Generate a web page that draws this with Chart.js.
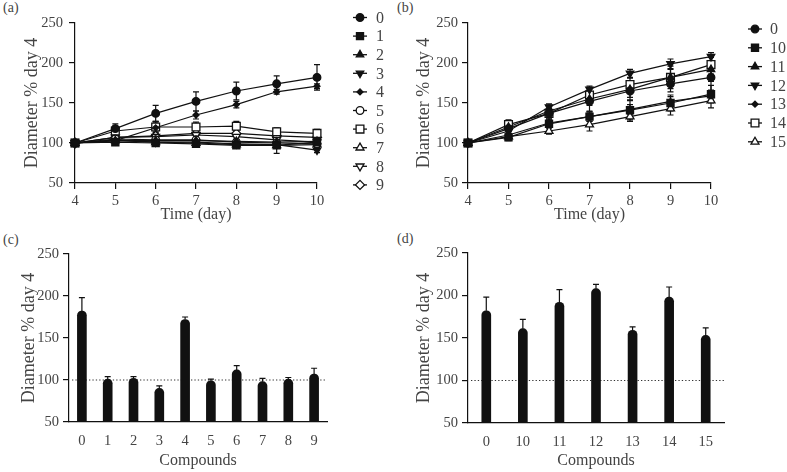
<!DOCTYPE html>
<html>
<head>
<meta charset="utf-8">
<script src="https://cdn.jsdelivr.net/npm/chart.js@4.4.1/dist/chart.umd.min.js"></script>
<style>
  body { margin: 0; background: #fff; width: 787px; height: 472px; position: relative; overflow: hidden;
         font-family: "Liberation Serif", "Times New Roman", serif; }
  .panel { position: absolute; }
  .tag { position: absolute; font-size: 14px; line-height: 16px; color: #444; }
</style>
</head>
<body>
<div class="tag" style="left:3px;top:0px">(a)</div>
<div class="tag" style="left:397px;top:0px">(b)</div>
<div class="tag" style="left:3px;top:232px">(c)</div>
<div class="tag" style="left:397px;top:231px">(d)</div>

<div class="panel" style="left:0;top:0"><canvas id="chartA" width="395" height="232"></canvas></div>
<div class="panel" style="left:395px;top:0"><canvas id="chartB" width="392" height="232"></canvas></div>
<div class="panel" style="left:0;top:232px"><canvas id="chartC" width="395" height="240"></canvas></div>
<div class="panel" style="left:395px;top:232px"><canvas id="chartD" width="392" height="240"></canvas></div>

<script>
// days of measurement
const days = [4, 5, 6, 7, 8, 9, 10];

// panel (a): compounds 0-9, diameter % of day 4
const namesA = ["0", "1", "2", "3", "4", "5", "6", "7", "8", "9"];
const meansA = [
  [100, 118, 137, 152, 165, 174, 182],
  [100, 101, 100, 99, 97, 97, 101],
  [100, 103, 103, 103, 102, 101, 102],
  [100, 103, 101, 101, 99, 98, 91],
  [100, 103, 119, 135, 148, 164, 171],
  [100, 105, 104, 104, 101, 100, 99],
  [100, 115, 120, 120, 121, 114, 112],
  [100, 104, 101, 100, 98, 97, 98],
  [100, 107, 108, 110, 108, 104, 101],
  [100, 107, 109, 112, 112, 109, 107]
];
const errsA = [
  [3, 6, 10, 12, 11, 10, 16],
  [2, 2, 2, 2, 2, 2, 4],
  [2, 2, 2, 2, 2, 2, 2],
  [2, 2, 3, 3, 4, 3, 3],
  [2, 3, 8, 5, 4, 3, 3],
  [2, 3, 3, 3, 3, 3, 2],
  [2, 5, 6, 6, 6, 5, 5],
  [2, 3, 3, 3, 3, 10, 4],
  [2, 3, 3, 3, 3, 3, 2],
  [2, 3, 4, 4, 4, 5, 7]
];

// panel (b): compounds 0, 10-15
const namesB = ["0", "10", "11", "12", "13", "14", "15"];
const meansB = [
  [100, 118, 137, 152, 165, 174, 182],
  [100, 107, 124, 133, 141, 150, 161],
  [100, 120, 140, 155, 167, 182, 192],
  [100, 115, 145, 167, 187, 199, 208],
  [100, 110, 125, 133, 142, 152, 159],
  [100, 123, 137, 160, 173, 182, 198],
  [100, 108, 115, 123, 133, 143, 153]
];
const errsB = [
  [3, 6, 10, 12, 11, 10, 16],
  [2, 4, 5, 6, 12, 10, 11],
  [2, 5, 6, 8, 10, 14, 15],
  [2, 4, 4, 4, 5, 6, 5],
  [2, 4, 5, 6, 6, 6, 4],
  [2, 6, 6, 8, 8, 10, 12],
  [2, 4, 4, 8, 6, 8, 9]
];

// panels (c) and (d): day 10 values
const compoundsC = ["0", "1", "2", "3", "4", "5", "6", "7", "8", "9"];
const day10C = [182, 101, 102, 90, 172, 99, 112, 98, 101, 107];
const errC = [16, 3, 2, 3, 3, 2, 5, 4, 2, 7];

const compoundsD = ["0", "10", "11", "12", "13", "14", "15"];
const day10D = [182, 161, 192, 208, 159, 198, 153];
const errD = [16, 11, 15, 5, 4, 12, 9];

const yTicks = [50, 100, 150, 200, 250];
const baseline = 100;

// marker styles
const shapesA = [
  {style: "circle", rot: 0, r: 3.8, open: false},
  {style: "rect", rot: 0, r: 5, open: false},
  {style: "triangle", rot: 0, r: 4.3, open: false},
  {style: "triangle", rot: 180, r: 4.3, open: false},
  {style: "rectRot", rot: 0, r: 3, open: false},
  {style: "circle", rot: 0, r: 3.8, open: true},
  {style: "rect", rot: 0, r: 5.5, open: true},
  {style: "triangle", rot: 0, r: 4.6, open: true},
  {style: "triangle", rot: 180, r: 4.6, open: true},
  {style: "rectRot", rot: 0, r: 4.5, open: true}
];
const shapesB = [
  {style: "circle", rot: 0, r: 3.8, open: false},
  {style: "rect", rot: 0, r: 5, open: false},
  {style: "triangle", rot: 0, r: 4.3, open: false},
  {style: "triangle", rot: 180, r: 4.3, open: false},
  {style: "rectRot", rot: 0, r: 3, open: false},
  {style: "rect", rot: 0, r: 5.5, open: true},
  {style: "triangle", rot: 0, r: 4.6, open: true}
];

const ink = "#111";
const textGray = "#444";

Chart.defaults.font.family = '"Liberation Serif", "Times New Roman", serif';
Chart.defaults.color = textGray;
Chart.defaults.animation = false;

// error bars drawn from each dataset's err array
const errorBars = {
  id: "errorBars",
  beforeDatasetsDraw(chart, args, opts) {
    const ctx = chart.ctx;
    const y = chart.scales.y;
    ctx.save();
    ctx.strokeStyle = ink;
    ctx.lineWidth = 1.2;
    chart.data.datasets.forEach((ds, i) => {
      if (!ds.err) return;
      chart.getDatasetMeta(i).data.forEach((el, j) => {
        const v = typeof ds.data[j] === "object" ? ds.data[j].y : ds.data[j];
        const top = y.getPixelForValue(v + ds.err[j]);
        const bot = opts.upOnly ? y.getPixelForValue(v) : y.getPixelForValue(v - ds.err[j]);
        ctx.beginPath();
        ctx.moveTo(el.x, top); ctx.lineTo(el.x, bot);
        ctx.moveTo(el.x - 3, top); ctx.lineTo(el.x + 3, top);
        if (!opts.upOnly) { ctx.moveTo(el.x - 3, bot); ctx.lineTo(el.x + 3, bot); }
        ctx.stroke();
      });
    });
    ctx.restore();
  }
};

// dotted reference line at 100 %
const refLine = {
  id: "refLine",
  beforeDatasetsDraw(chart, args, opts) {
    if (!opts.show) return;
    const ctx = chart.ctx;
    const py = chart.scales.y.getPixelForValue(baseline);
    ctx.save();
    ctx.strokeStyle = "#333";
    ctx.lineWidth = 1.2;
    ctx.setLineDash([1.3, 2.1]);
    ctx.beginPath();
    ctx.moveTo(chart.chartArea.left + 3, py);
    ctx.lineTo(chart.chartArea.right, py);
    ctx.stroke();
    ctx.restore();
  }
};

// legend on the right: short line + marker + label
const sideLegend = {
  id: "sideLegend",
  afterDraw(chart, args, opts) {
    if (!opts.show) return;
    const ctx = chart.ctx;
    ctx.save();
    chart.data.datasets.forEach((ds, i) => {
      const yy = opts.top + i * opts.gap;
      ctx.strokeStyle = ink;
      ctx.lineWidth = 1.3;
      ctx.beginPath();
      ctx.moveTo(opts.x - 7, yy); ctx.lineTo(opts.x + 7, yy);
      ctx.stroke();
      ctx.fillStyle = ds.pointBackgroundColor;
      Chart.helpers.drawPoint(ctx, {
        pointStyle: ds.pointStyle, rotation: ds.pointRotation,
        radius: ds.pointRadius, borderWidth: 1.3
      }, opts.x, yy);
      ctx.fillStyle = textGray;
      ctx.font = '16px "Liberation Serif", serif';
      ctx.textBaseline = "middle";
      ctx.textAlign = "left";
      ctx.fillText(ds.label, opts.textX, yy + 1);
    });
    ctx.restore();
  }
};

function buildLines(names, means, errs, shapes) {
  return names.map((name, i) => ({
    label: name,
    data: days.map((d, j) => ({x: d, y: means[i][j]})),
    err: errs[i],
    borderColor: ink,
    borderWidth: 1.2,
    pointStyle: shapes[i].style,
    pointRotation: shapes[i].rot,
    pointRadius: shapes[i].r,
    pointBackgroundColor: shapes[i].open ? "#fff" : ink,
    pointBorderColor: ink,
    pointBorderWidth: 1.3,
    tension: 0,
    clip: false
  }));
}

function yAxis(width, titlePad, tickPad) {
  return {
    min: 50, max: 250,
    afterBuildTicks: s => { s.ticks = yTicks.map(v => ({value: v})); },
    ticks: {padding: tickPad, font: {size: 14.5}},
    grid: {drawOnChartArea: false, tickLength: 6, color: ink, lineWidth: 1.2},
    border: {color: ink, width: 1.2},
    title: {display: true, text: "Diameter % day 4", font: {size: 18}, padding: {top: titlePad, bottom: 0}},
    afterFit: s => { s.width = width; }
  };
}

function lineChart(id, names, means, errs, shapes, cfg) {
  new Chart(document.getElementById(id), {
    type: "line",
    data: {datasets: buildLines(names, means, errs, shapes)},
    plugins: [errorBars, sideLegend],
    options: {
      responsive: false,
      layout: {padding: cfg.pad},
      plugins: {
        legend: {display: false},
        tooltip: {enabled: false},
        errorBars: {upOnly: false},
        sideLegend: {show: true, x: cfg.legX, textX: cfg.legTextX, top: cfg.legTop, gap: cfg.legGap}
      },
      scales: {
        x: {
          type: "linear", min: 4, max: 10,
          ticks: {stepSize: 1, padding: 3, font: {size: 14.5}},
          grid: {drawOnChartArea: false, tickLength: 6, color: ink, lineWidth: 1.2},
          border: {color: ink, width: 1.2},
          title: {display: true, text: "Time (day)", font: {size: 16}, padding: {top: 0, bottom: cfg.xTitlePad}},
          afterFit: s => { s.height = cfg.xHeight; }
        },
        y: yAxis(cfg.yWidth, cfg.yTitlePad, cfg.yTickPad)
      }
    }
  });
}

function barChart(id, labels, values, errs, cfg) {
  new Chart(document.getElementById(id), {
    type: "bar",
    data: {
      labels: labels,
      datasets: [{
        data: values,
        err: errs,
        backgroundColor: ink,
        barThickness: 9,
        borderRadius: 4.5,
        borderSkipped: "start"
      }]
    },
    plugins: [refLine, errorBars],
    options: {
      responsive: false,
      layout: {padding: cfg.pad},
      plugins: {
        legend: {display: false},
        tooltip: {enabled: false},
        errorBars: {upOnly: true},
        refLine: {show: true}
      },
      scales: {
        x: {
          ticks: {padding: 10, font: {size: 14.5}},
          grid: {display: false, drawTicks: false},
          border: {display: true, color: ink, width: 1.2},
          title: {display: true, text: "Compounds", font: {size: 16}, padding: {top: 0, bottom: cfg.xTitlePad}},
          afterFit: s => { s.height = cfg.xHeight; }
        },
        y: yAxis(cfg.yWidth, cfg.yTitlePad, cfg.yTickPad)
      }
    }
  });
}

lineChart("chartA", namesA, meansA, errsA, shapesA, {
  pad: {left: 0, top: 23, right: 78, bottom: 2},
  yWidth: 75, yTitlePad: 21, yTickPad: 6, xHeight: 47, xTitlePad: 6,
  legX: 360, legTextX: 376, legTop: 17.5, legGap: 18.6
});

lineChart("chartB", namesB, meansB, errsB, shapesB, {
  pad: {left: 0, top: 23, right: 76, bottom: 2},
  yWidth: 73, yTitlePad: 18, yTickPad: 4, xHeight: 47, xTitlePad: 6,
  legX: 360, legTextX: 375, legTop: 29, legGap: 18.8
});

barChart("chartC", compoundsC, day10C, errC, {
  pad: {left: 0, top: 22, right: 68, bottom: 0},
  yWidth: 69, yTitlePad: 18, yTickPad: 4, xHeight: 50, xTitlePad: 2
});

barChart("chartD", compoundsD, day10D, errD, {
  pad: {left: 0, top: 21, right: 63, bottom: 0},
  yWidth: 73, yTitlePad: 18, yTickPad: 4, xHeight: 49, xTitlePad: 2
});
</script>
</body>
</html>
